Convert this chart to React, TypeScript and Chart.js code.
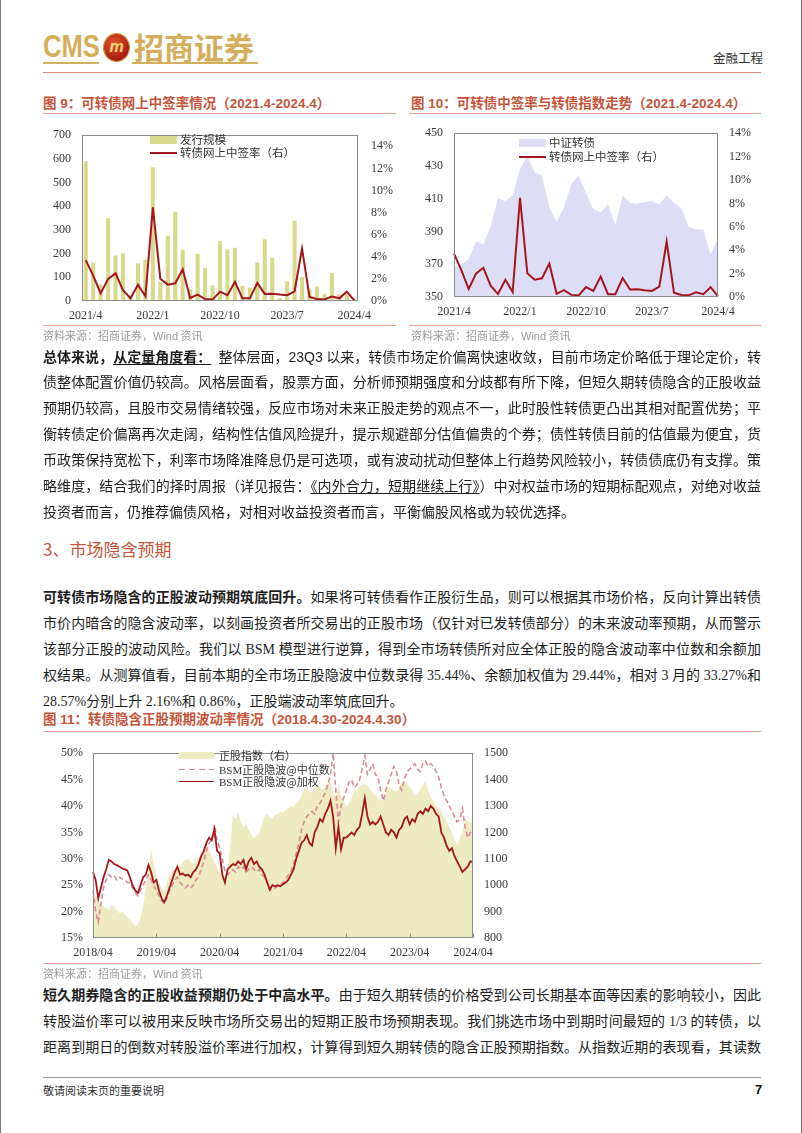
import React, { useEffect, useRef } from 'react';
import { Chart, registerables } from 'chart.js';

Chart.register(...registerables);

// ---------------- Figure 9 / 10 data ----------------
const months = [
  '2021/4', '2021/5', '2021/6', '2021/7', '2021/8', '2021/9', '2021/10', '2021/11', '2021/12',
  '2022/1', '2022/2', '2022/3', '2022/4', '2022/5', '2022/6', '2022/7', '2022/8', '2022/9',
  '2022/10', '2022/11', '2022/12', '2023/1', '2023/2', '2023/3', '2023/4', '2023/5', '2023/6',
  '2023/7', '2023/8', '2023/9', '2023/10', '2023/11', '2023/12', '2024/1', '2024/2', '2024/3', '2024/4',
];
// 发行规模 (亿元)
const issueSize = [590, 163, 70, 349, 192, 202, 15, 159, 174, 565, 80, 275, 377, 216, 50, 200, 139, 65,
  252, 218, 225, 64, 57, 163, 261, 182, 12, 82, 338, 102, 48, 62, 30, 118, 28, 28, 8];
// 转债网上中签率 (%)
const winRate = [3.7, 2.3, 0.68, 2.0, 2.5, 0.97, 0.25, 1.47, 0.42, 8.47, 2.02, 1.48, 1.6, 2.85, 0.27, 0.58, 0.18, 0.13,
  0.85, 0.52, 1.74, 0.24, 0.24, 1.62, 0.64, 0.66, 0.58, 0.52, 0.88, 4.73, 0.36, 0.18, 0.14, 0.4, 0.24, 0.84, 0.05];
// 中证转债
const csiCB = [368, 370, 373, 384, 382, 393, 410.5, 408.6, 412, 428, 436, 426, 424, 404.6, 395.8, 404.6, 419, 424,
  413.5, 403.6, 401.7, 406.6, 393.8, 412, 407.6, 407, 408, 408.4, 406.6, 412, 407.6, 404, 392.8, 391.4, 391.2, 376, 386];
const rateTicks = [0, 2, 4, 6, 8, 10, 12, 14];

// ---------------- Figure 11 data (semi-monthly, 2018/04 - 2024/04) ----------------
const yearTicks11 = ['2018/04', '2019/04', '2020/04', '2021/04', '2022/04', '2023/04', '2024/04'];
// BSM正股隐波@加权 (%)
const weightedVol = [
  27.5, 26.0, 22.5, 24.5, 26.5, 28.0, 29.8, 29.5, 29.0, 28.8,
  28.5, 28.2, 28.0, 27.8, 26.5, 25.0, 24.0, 23.5, 25.0, 26.5,
  27.0, 28.8, 27.5, 25.5, 26.0, 24.0, 22.5, 21.8, 23.0, 24.5,
  26.0, 27.5, 28.5, 27.0, 27.2, 26.8, 27.0, 26.5, 27.5, 28.0,
  29.0, 30.5, 31.5, 33.0, 34.0, 33.5, 35.5, 31.5, 31.0, 27.0,
  25.5, 28.0, 28.5, 29.0, 28.8, 29.5, 29.0, 29.8, 28.0, 29.5,
  30.2, 29.0, 29.5, 28.5, 28.0, 27.0, 25.5, 24.2, 25.0, 24.8,
  25.0, 24.8, 25.2, 25.5, 26.0, 27.0, 28.0, 30.0, 31.5, 33.0,
  33.5, 34.5, 33.0, 32.5, 35.0, 36.0, 37.5, 37.0, 38.5, 39.5,
  41.0, 38.0, 32.0, 36.0, 31.8, 34.0, 34.0, 34.5, 35.0, 34.5,
  35.5, 36.0, 38.5, 41.5, 38.0, 36.5, 37.0, 36.5, 37.0, 38.0,
  36.5, 35.0, 34.5, 35.5, 35.0, 34.0, 35.5, 36.0, 37.5, 38.0,
  36.5, 37.5, 37.0, 38.5, 39.0, 38.5, 39.5, 39.0, 40.0, 39.5,
  38.5, 38.0, 35.0, 34.0, 32.5, 31.5, 32.0, 30.5, 29.5, 28.5,
  27.5, 28.0, 28.5, 29.5, 29.4,
];
// BSM正股隐波@中位数 (%)
const medianVol = [
  24.0, 20.0, 18.0, 21.5, 24.5, 26.0, 27.0, 26.5, 26.8, 26.0,
  26.5, 26.2, 26.0, 25.5, 25.5, 24.5, 23.5, 23.0, 24.0, 25.0,
  26.0, 27.0, 26.0, 25.0, 24.0, 23.0, 22.0, 21.5, 22.5, 24.0,
  25.0, 26.0, 26.5, 25.5, 25.0, 24.5, 25.0, 24.5, 25.0, 26.0,
  26.5, 28.0, 29.5, 31.5, 33.0, 33.5, 36.5, 33.5, 32.0, 30.0,
  27.5, 27.0, 27.5, 28.0, 27.5, 28.5, 28.0, 28.5, 27.5, 28.0,
  28.5, 28.0, 27.5, 28.0, 27.0, 26.5, 25.5, 24.0, 24.5, 24.5,
  24.8, 25.0, 25.5, 26.0, 27.0, 27.5, 29.0, 31.0, 33.0, 35.5,
  37.0, 38.0, 38.5, 39.0, 38.5, 40.0, 40.5, 41.5, 42.5, 44.0,
  46.0, 50.0, 43.0, 37.0, 40.0, 41.5, 43.0, 44.5, 45.0, 43.5,
  44.0, 45.0, 47.0, 49.5, 46.0, 47.0, 48.0, 46.0, 45.5, 43.0,
  41.0, 43.0, 44.5, 46.0, 47.5, 46.5, 44.0, 43.0, 45.0, 46.5,
  47.0, 47.5, 48.0, 47.0, 46.5, 48.0, 48.5, 47.5, 48.0, 47.5,
  46.5, 45.5, 43.5, 42.0, 41.0, 40.0, 39.0, 38.0, 37.0, 37.5,
  39.5, 36.0, 34.0, 35.0, 35.4,
];
// 正股指数 (右)
const stockIndex = [
  975, 960, 945, 930, 920, 915, 905, 925, 920, 905,
  895, 900, 890, 880, 870, 860, 845, 850, 880, 920,
  990, 1060, 1135, 1080, 1030, 1010, 990, 975, 1010, 1040,
  1055, 1065, 1060, 1070, 1085, 1095, 1100, 1090, 1080, 1095,
  1110, 1120, 1140, 1155, 1130, 1110, 1090, 1070, 1050, 1040,
  1030, 1060, 1150, 1265, 1250, 1275, 1240, 1220, 1230, 1210,
  1190, 1180, 1185, 1200, 1230, 1260, 1270, 1255, 1250, 1265,
  1270, 1280, 1275, 1285, 1290, 1300, 1295, 1310, 1320, 1340,
  1365, 1370, 1355, 1350, 1375, 1385, 1370, 1360, 1375, 1390,
  1395, 1350, 1330, 1380, 1340, 1320, 1300, 1310, 1330, 1355,
  1360, 1375, 1380, 1385, 1375, 1365, 1350, 1340, 1330, 1325,
  1320, 1355, 1365, 1370, 1360, 1355, 1370, 1390, 1400, 1385,
  1370, 1360, 1340, 1345, 1360, 1380, 1395, 1360, 1330, 1320,
  1300, 1295, 1280, 1260, 1240, 1220, 1200, 1170, 1150, 1180,
  1200, 1250, 1245, 1235, 1250,
];
const dates11: string[] = weightedVol.map((_, k) => {
  const m = 3 + Math.floor(k / 2);
  const y = 2018 + Math.floor(m / 12);
  const mm = String((m % 12) + 1).padStart(2, '0');
  return `${y}/${mm}${k % 2 ? '下' : '上'}`;
});

// ---------------- styles ----------------
const SERIF = "'Liberation Serif', 'Times New Roman', serif";
const BODY = "'Liberation Serif', 'Noto Sans CJK SC', serif";
const SANS = "'Liberation Sans', 'Noto Sans CJK SC', sans-serif";
const CJK = "'Noto Sans CJK SC', 'Liberation Serif', sans-serif";
const GOLD = '#D5AE5B';
const TITLE = '#C4553A';
const RULE = '#E6A591';
const RED = '#A3161D';
const PINK = '#D98A94';
const BAR = '#D9D98E';
const LAVENDER = '#DDDDF5';
const KHAKI = '#EEEBC2';
const TICK = '#383838';

Chart.defaults.font.family = SERIF;
Chart.defaults.font.size = 12;
Chart.defaults.color = TICK;

const framePlugin = {
  id: 'frame',
  afterDatasetsDraw(chart: any, _args: any, opts: any) {
    const { ctx, chartArea: a } = chart;
    ctx.save();
    ctx.strokeStyle = '#8c8c8c';
    ctx.lineWidth = 1;
    const l = Math.round(a.left) + 0.5, t = Math.round(a.top) + 0.5;
    const r = Math.round(a.right) - 0.5, b = Math.round(a.bottom) - 0.5;
    ctx.strokeRect(l, t, r - l, b - t);
    if (opts && opts.tickEvery) {
      const xs = chart.scales.x;
      for (let i = 0; i < chart.data.labels.length; i += opts.tickEvery) {
        const px = Math.round(xs.getPixelForValue(i)) + 0.5;
        ctx.beginPath();
        ctx.moveTo(px, b);
        ctx.lineTo(px, b - 4);
        ctx.stroke();
      }
    }
    ctx.restore();
  },
};

const noGrid = { display: false, drawTicks: false };
const noBorder = { display: false };
const rateAxisTicks = (s: any) => { s.ticks = rateTicks.map((v) => ({ value: v })); };

function buildFig9(): any {
  return {
    type: 'bar',
    data: {
      labels: months,
      datasets: [
        { type: 'line', label: '转债网上中签率（右）', data: winRate, yAxisID: 'y1', borderColor: RED, borderWidth: 2, pointRadius: 0, tension: 0, order: 0 },
        { type: 'bar', label: '发行规模', data: issueSize, yAxisID: 'y', backgroundColor: BAR, barPercentage: 0.55, categoryPercentage: 1, order: 1 },
      ],
    },
    options: {
      animation: false,
      responsive: false,
      layout: { padding: { top: 10, left: 0, right: 0, bottom: 0 } },
      plugins: { legend: { display: false }, tooltip: { enabled: false }, frame: {} },
      scales: {
        x: {
          grid: noGrid, border: noBorder,
          ticks: { autoSkip: false, maxRotation: 0, minRotation: 0, padding: 8, callback: (_v: any, i: number) => (i % 9 === 0 ? months[i] : '') },
          afterFit: (s: any) => { s.height = 29; },
        },
        y: {
          position: 'left', min: 0, max: 700, grid: noGrid, border: noBorder,
          ticks: { stepSize: 100, padding: 11 },
          afterFit: (s: any) => { s.width = 51; },
        },
        y1: {
          position: 'right', min: 0, max: 15, grid: noGrid, border: noBorder,
          ticks: { padding: 13, callback: (v: any) => v + '%' },
          afterBuildTicks: rateAxisTicks,
          afterFit: (s: any) => { s.width = 53; },
        },
      },
    },
    plugins: [framePlugin],
  };
}

function buildFig10(): any {
  return {
    type: 'line',
    data: {
      labels: months,
      datasets: [
        { label: '转债网上中签率（右）', data: winRate, yAxisID: 'y1', borderColor: RED, borderWidth: 2, pointRadius: 0, tension: 0, order: 0 },
        { label: '中证转债', data: csiCB, yAxisID: 'y', borderWidth: 0, borderColor: LAVENDER, backgroundColor: LAVENDER, fill: 'start', pointRadius: 0, tension: 0, order: 1 },
      ],
    },
    options: {
      animation: false,
      responsive: false,
      layout: { padding: { top: 13, left: 0, right: 0, bottom: 0 } },
      plugins: { legend: { display: false }, tooltip: { enabled: false }, frame: {} },
      scales: {
        x: {
          offset: false, grid: noGrid, border: noBorder,
          ticks: { autoSkip: false, maxRotation: 0, minRotation: 0, padding: 8, callback: (_v: any, i: number) => (i % 9 === 0 ? months[i] : '') },
          afterFit: (s: any) => { s.height = 33; },
        },
        y: {
          position: 'left', min: 350, max: 450, grid: noGrid, border: noBorder,
          ticks: { stepSize: 20, padding: 11 },
          afterFit: (s: any) => { s.width = 53; },
        },
        y1: {
          position: 'right', min: 0, max: 14, grid: noGrid, border: noBorder,
          ticks: { padding: 11, callback: (v: any) => v + '%' },
          afterBuildTicks: rateAxisTicks,
          afterFit: (s: any) => { s.width = 63; },
        },
      },
    },
    plugins: [framePlugin],
  };
}

function buildFig11(): any {
  return {
    type: 'line',
    data: {
      labels: dates11,
      datasets: [
        { label: 'BSM正股隐波@加权', data: weightedVol, yAxisID: 'y', borderColor: RED, borderWidth: 1.8, pointRadius: 0, tension: 0, order: 0 },
        { label: 'BSM正股隐波@中位数', data: medianVol, yAxisID: 'y', borderColor: PINK, borderWidth: 1.6, borderDash: [5, 3], pointRadius: 0, tension: 0, order: 1 },
        { label: '正股指数（右）', data: stockIndex, yAxisID: 'y1', borderWidth: 0, borderColor: KHAKI, backgroundColor: KHAKI, fill: 'start', pointRadius: 0, tension: 0, order: 2 },
      ],
    },
    options: {
      animation: false,
      responsive: false,
      layout: { padding: { top: 11, left: 0, right: 0, bottom: 0 } },
      plugins: { legend: { display: false }, tooltip: { enabled: false }, frame: { tickEvery: 24 } },
      scales: {
        x: {
          offset: false, grid: noGrid, border: noBorder,
          ticks: { autoSkip: false, maxRotation: 0, minRotation: 0, padding: 8, callback: (_v: any, i: number) => (i % 24 === 0 ? yearTicks11[i / 24] : '') },
          afterFit: (s: any) => { s.height = 32; },
        },
        y: {
          position: 'left', min: 15, max: 50, grid: noGrid, border: noBorder,
          ticks: { stepSize: 5, padding: 10, callback: (v: any) => v + '%' },
          afterFit: (s: any) => { s.width = 62; },
        },
        y1: {
          position: 'right', min: 800, max: 1500, grid: noGrid, border: noBorder,
          ticks: { stepSize: 100, padding: 11, callback: (v: any) => String(v) },
          afterFit: (s: any) => { s.width = 48; },
        },
      },
    },
    plugins: [framePlugin],
  };
}

function ChartBox({ left, top, width, height, build }: { left: number; top: number; width: number; height: number; build: () => any }) {
  const ref = useRef<HTMLCanvasElement>(null);
  useEffect(() => {
    const chart = new Chart(ref.current as HTMLCanvasElement, build());
    return () => chart.destroy();
  }, []);
  return <canvas ref={ref} width={width} height={height} style={{ position: 'absolute', left, top, width, height }} />;
}

function T({ x, y, size, color = '#222', weight = 400, family = BODY, children, style }: any) {
  const lh = Math.round(size * 1.5);
  return (
    <div style={{ position: 'absolute', left: x, top: y - lh / 2, fontSize: size, lineHeight: lh + 'px', color, fontWeight: weight, fontFamily: family, whiteSpace: 'nowrap', ...style }}>
      {children}
    </div>
  );
}

function Rule({ x1, x2, y, color = RULE, h = 1 }: any) {
  return <div style={{ position: 'absolute', left: x1, top: y, width: x2 - x1, height: h, background: color }} />;
}

function Line({ y, children, last }: { y: number; children: any; last?: boolean }) {
  return (
    <div style={{ position: 'absolute', left: 42, top: y - 10, width: 718, height: 20, lineHeight: '20px', fontSize: 14, color: '#1e1e1e', fontFamily: BODY, textAlign: last ? 'left' : 'justify', textAlignLast: last ? 'left' : 'justify' } as any}>
      {children}
    </div>
  );
}

function Swatch({ x, y, w, h, bg }: any) {
  return <div style={{ position: 'absolute', left: x, top: y, width: w, height: h, background: bg }} />;
}

const B = ({ children }: any) => <span style={{ fontWeight: 700 }}>{children}</span>;
const U = ({ children }: any) => <span style={{ textDecoration: 'underline', textUnderlineOffset: 2 }}>{children}</span>;

export default function App() {
  const p1 = [357, 383, 409, 435, 461, 487, 513];
  const p2 = [598, 624, 650, 676, 702];
  const p3 = [996, 1022, 1048];
  const legendText = { color: '#333', family: CJK };
  return (
    <div style={{ position: 'absolute', left: 0, top: 0, width: 802, height: 1133, background: '#fff', overflow: 'hidden', borderLeft: '1px solid #777', borderRight: '1px solid #777', boxSizing: 'border-box' }}>
      {/* header */}
      <T x={42} y={46} size={32} color={GOLD} weight={700} family="'Liberation Sans', sans-serif" style={{ transform: 'scaleX(0.8)', transformOrigin: 'left center' }}>CMS</T>
      <Rule x1={42} x2={98} y={62} color={GOLD} h={2} />
      <div style={{ position: 'absolute', left: 103, top: 34, width: 25, height: 27, borderRadius: '50%', background: 'radial-gradient(circle at 40% 35%, #E4582C, #A3180F 75%)', boxShadow: '0 0 0 1px #C9922F' }}>
        <div style={{ position: 'absolute', left: 0, top: 3, width: 25, textAlign: 'center', color: '#F3D27A', fontSize: 16, fontWeight: 700, fontStyle: 'italic', fontFamily: SANS, lineHeight: '20px' }}>m</div>
      </div>
      <T x={133} y={46} size={30} color={GOLD} weight={700} family={CJK}>招商证券</T>
      <Rule x1={131} x2={257} y={62} color={GOLD} h={2} />
      <T x={712} y={57} size={12.5} color="#333" family={CJK}>金融工程</T>
      <Rule x1={42} x2={760} y={72} color="#D8877E" />

      {/* figure 9 */}
      <T x={42} y={104} size={13.5} color={TITLE} weight={700} family={SANS}>图 9：可转债网上中签率情况（2021.4-2024.4）</T>
      <Rule x1={42} x2={395} y={113} />
      <ChartBox left={30} top={115} width={380} height={215} build={buildFig9} />
      <Swatch x={149} y={136} w={27} h={8} bg={BAR} />
      <T x={179} y={139.5} size={11.5} {...legendText}>发行规模</T>
      <Swatch x={149} y={151.5} w={27} h={2} bg={RED} />
      <T x={179} y={152.5} size={11.5} {...legendText}>转债网上中签率（右）</T>
      <Rule x1={42} x2={395} y={325} />
      <T x={42} y={335} size={11} color="#9a9a9a" family={CJK}>资料来源：招商证券，<span style={{ fontFamily: SANS }}>Wind</span> 资讯</T>

      {/* figure 10 */}
      <T x={410} y={104} size={13.5} color={TITLE} weight={700} family={SANS}>图 10：可转债中签率与转债指数走势（2021.4-2024.4）</T>
      <Rule x1={408} x2={760} y={113} />
      <ChartBox left={400} top={115} width={380} height={215} build={buildFig10} />
      <Swatch x={518} y={139} w={27} h={8} bg={LAVENDER} />
      <T x={548} y={142.5} size={11.5} {...legendText}>中证转债</T>
      <Swatch x={518} y={155.5} w={27} h={2} bg={RED} />
      <T x={548} y={156.5} size={11.5} {...legendText}>转债网上中签率（右）</T>
      <Rule x1={408} x2={760} y={325} />
      <T x={410} y={335} size={11} color="#9a9a9a" family={CJK}>资料来源：招商证券，<span style={{ fontFamily: SANS }}>Wind</span> 资讯</T>

      {/* paragraph 1 */}
      <Line y={p1[0]}><B>总体来说，</B><B><U>从定量角度看：</U></B>{'\u00a0\u00a0'}整体层面，<span style={{ fontFamily: SANS }}>23Q3</span> 以来，转债市场定价偏离快速收敛，目前市场定价略低于理论定价，转</Line>
      <Line y={p1[1]}>债整体配置价值仍较高。风格层面看，股票方面，分析师预期强度和分歧都有所下降，但短久期转债隐含的正股收益</Line>
      <Line y={p1[2]}>预期仍较高，且股市交易情绪较强，反应市场对未来正股走势的观点不一，此时股性转债更凸出其相对配置优势；平</Line>
      <Line y={p1[3]}>衡转债定价偏离再次走阔，结构性估值风险提升，提示规避部分估值偏贵的个券；债性转债目前的估值最为便宜，货</Line>
      <Line y={p1[4]}>币政策保持宽松下，利率市场降准降息仍是可选项，或有波动扰动但整体上行趋势风险较小，转债债底仍有支撑。策</Line>
      <Line y={p1[5]}>略维度，结合我们的择时周报（详见报告：<U>《内外合力，短期继续上行》</U>）中对权益市场的短期标配观点，对绝对收益</Line>
      <Line y={p1[6]} last>投资者而言，仍推荐偏债风格，对相对收益投资者而言，平衡偏股风格或为较优选择。</Line>

      {/* section heading */}
      <T x={42} y={549} size={17} color={TITLE} family={CJK}>3、市场隐含预期</T>

      {/* paragraph 2 */}
      <Line y={p2[0]}><B>可转债市场隐含的正股波动预期筑底回升。</B>如果将可转债看作正股衍生品，则可以根据其市场价格，反向计算出转债</Line>
      <Line y={p2[1]}>市价内暗含的隐含波动率，以刻画投资者所交易出的正股市场（仅针对已发转债部分）的未来波动率预期，从而警示</Line>
      <Line y={p2[2]}>该部分正股的波动风险。我们以 BSM 模型进行逆算，得到全市场转债所对应全体正股的隐含波动率中位数和余额加</Line>
      <Line y={p2[3]}>权结果。从测算值看，目前本期的全市场正股隐波中位数录得 35.44%、余额加权值为 29.44%，相对 3 月的 33.27%和</Line>
      <Line y={p2[4]} last>28.57%分别上升 2.16%和 0.86%，正股端波动率筑底回升。</Line>

      {/* figure 11 */}
      <T x={42} y={720} size={13.5} color={TITLE} weight={700} family={SANS}>图 11：转债隐含正股预期波动率情况（2018.4.30-2024.4.30）</T>
      <Rule x1={42} x2={760} y={731} />
      <ChartBox left={30} top={735} width={490} height={235} build={buildFig11} />
      <Swatch x={178} y={751.5} w={35} h={7} bg={KHAKI} />
      <T x={218} y={755} size={11} {...legendText}>正股指数（右）</T>
      <Swatch x={178} y={768.5} w={35} h={1.6} bg={`repeating-linear-gradient(90deg, ${PINK} 0 6px, transparent 6px 10px)`} />
      <T x={218} y={769} size={11} {...legendText}><span style={{ fontFamily: SERIF }}>BSM</span>正股隐波@中位数</T>
      <Swatch x={178} y={780.5} w={35} h={1.8} bg={RED} />
      <T x={218} y={781.5} size={11} {...legendText}><span style={{ fontFamily: SERIF }}>BSM</span>正股隐波@加权</T>
      <Rule x1={42} x2={760} y={963} />
      <T x={42} y={973} size={11} color="#9a9a9a" family={CJK}>资料来源：招商证券，<span style={{ fontFamily: SANS }}>Wind</span> 资讯</T>

      {/* paragraph 3 */}
      <Line y={p3[0]}><B>短久期券隐含的正股收益预期仍处于中高水平。</B>由于短久期转债的价格受到公司长期基本面等因素的影响较小，因此</Line>
      <Line y={p3[1]}>转股溢价率可以被用来反映市场所交易出的短期正股市场预期表现。我们挑选市场中到期时间最短的 1/3 的转债，以</Line>
      <Line y={p3[2]}>距离到期日的倒数对转股溢价率进行加权，计算得到短久期转债的隐含正股预期指数。从指数近期的表现看，其读数</Line>

      {/* footer */}
      <Rule x1={42} x2={760} y={1077} color="#9a9a9a" />
      <T x={42} y={1090} size={11} color="#333" family={CJK}>敬请阅读末页的重要说明</T>
      <T x={754} y={1090} size={13} color="#111" weight={700} family={SANS}>7</T>
    </div>
  );
}
